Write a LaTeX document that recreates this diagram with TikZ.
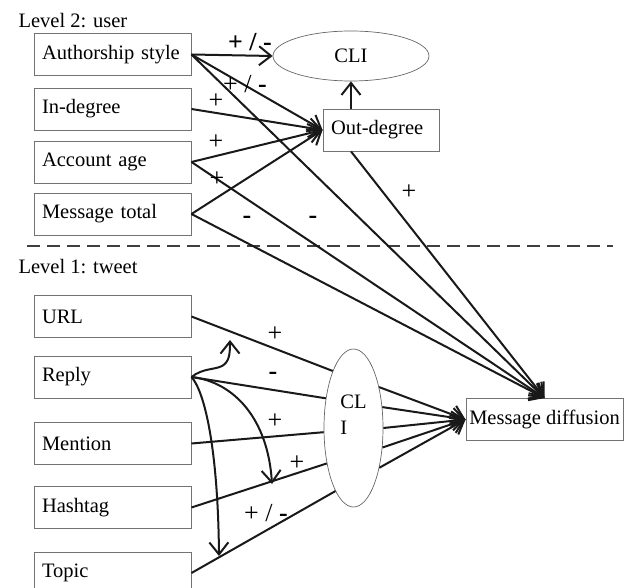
\documentclass[tikz,border=0pt]{standalone}
\usepackage{fontspec}
\setmainfont{Liberation Serif}
\usetikzlibrary{arrows.meta,shapes.geometric}

\begin{document}
\begin{tikzpicture}[x=1pt,y=-1pt,font=\fontsize{20.5}{26}\selectfont,
     frame/.style={draw=black!55,line width=0.9pt,minimum height=42pt},
     box/.style={frame,text width=141pt,inner xsep=8pt,align=left},
     oval/.style={ellipse,draw=black!60,line width=0.7pt,inner sep=2pt},
     link/.style={black!90,line width=2pt},
     arr/.style={link,-{Straight Barb[length=12pt,width=19pt]}},
     sign/.style={inner sep=0pt,font=\fontsize{26}{30}\selectfont}]
     \useasboundingbox (0,0) rectangle (629,588);
     % level 2
     \node[anchor=base west] (lev2) at (15,28) {Level 2: user};
     \node[box] (auth) at (112.5,54.5) {Authorship style};
     \node[box] (indeg) at (112.5,109) {In-degree};
     \node[box] (acct) at (112.5,162) {Account age};
     \node[box] (msgtot) at (112.5,214) {Message total};
     \node[oval,minimum width=156pt,minimum height=50pt] (cli1) at (351,56) {CLI};
     \node[box,text width=100pt] (outdeg) at (381,130) {Out-degree};
     \draw[black!75,line width=1.8pt,dash pattern=on 13pt off 7pt] (27,246) -- (613,246);
     % level 1
     \node[anchor=base west] (lev1) at (15,273) {Level 1: tweet};
     \node[box] (url) at (112.5,316.5) {URL};
     \node[box] (reply) at (112.5,377) {Reply};
     \node[box] (mention) at (112.5,443.5) {Mention};
     \node[box] (hashtag) at (112.5,507.5) {Hashtag};
     \node[box] (topic) at (112.5,573) {Topic};
     \node[oval,minimum width=59pt,minimum height=158pt,align=left] (cli2) at (353.5,428) {CL\\I\\\mbox{}};
     \node[frame,minimum width=157pt,inner xsep=2pt] (msg) at (544.5,419.5) {Message diffusion};
     % user paths
     \draw[arr] (auth.east) -- (cli1.west);
     \draw[arr] (auth.east) -- (outdeg.west);
     \draw[arr] (auth.east) -- (msg.north);
     \draw[arr] (indeg.east) -- (outdeg.west);
     \draw[arr] (acct.east) -- (outdeg.west);
     \draw[arr] (acct.east) -- (msg.north);
     \draw[arr] (msgtot.east) -- (outdeg.west);
     \draw[arr] (msgtot.east) -- (msg.north);
     \draw[arr] (cli1.south |- outdeg.north) -- (cli1.south);
     \draw[arr] (cli1.south |- outdeg.south) -- (msg.north);
     % tweet paths
     \draw[link] (url.east) -- (cli2.110);
     \draw[link] (reply.east) -- (cli2.133);
     \draw[link] (mention.east) -- (cli2.188);
     \draw[link] (hashtag.east) -- (cli2.233);
     \draw[link] (topic.east) -- (cli2.254);
     \foreach \a in {58,36,0,-34,-57}
          \draw[arr] (cli2.\a) -- (msg.west);
     % reply interactions
     \coordinate (urlhit) at (230,340);
     \coordinate (taghit) at (272,484);
     \coordinate (topichit) at (219,556);
     \draw[arr] (reply.east) .. controls (203,368) and (214,370) .. (222,366) .. controls (229,362) and (230,355) .. (urlhit);
     \draw[arr] (reply.east) .. controls (235,382) and (268,420) .. (taghit);
     \draw[arr] (reply.east) .. controls (205,392) and (218,450) .. (topichit);
     % signs
     \node[sign] (s1) at (250,42) {\textbf{+ / -}};
     \node[sign] (s2) at (245,84) {+ / \textbf{-}};
     \node[sign] (s3) at (216,101) {+};
     \node[sign] (s4) at (216,142) {+};
     \node[sign] (s5) at (217,179) {+};
     \node[sign] (s6) at (247,220) {\textbf{-}};
     \node[sign] (s7) at (313,220) {\textbf{-}};
     \node[sign] (s8) at (409,192) {+};
     \node[sign] (s9) at (275,334) {+};
     \node[sign] (s10) at (273,376) {\textbf{-}};
     \node[sign] (s11) at (275,421) {+};
     \node[sign] (s12) at (297,463) {+};
     \node[sign] (s13) at (266,513) {+ / \textbf{-}};
\end{tikzpicture}
\end{document}
